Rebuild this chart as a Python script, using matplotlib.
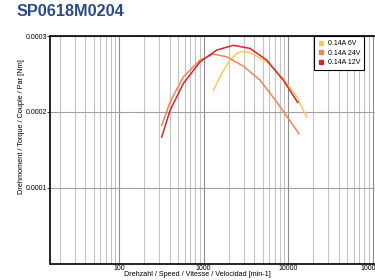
import numpy as np
import matplotlib
matplotlib.use("Agg")
import matplotlib.pyplot as plt
from matplotlib.lines import Line2D
from matplotlib.ticker import LogLocator, FixedLocator, NullFormatter, FuncFormatter

plt.rcParams['font.family'] = ['Liberation Sans', 'DejaVu Sans']

# Kennlinien (Drehzahl [min-1], Drehmoment [Nm])
speed_6v = [1306, 1641, 2061, 2473, 2832, 3548, 5594, 8790, 12680, 16630]
torque_6v = [2.286e-4, 2.507e-4, 2.683e-4, 2.771e-4, 2.793e-4, 2.779e-4,
             2.660e-4, 2.441e-4, 2.198e-4, 1.933e-4]

speed_24v = [320, 402, 577, 910, 1306, 1884, 2960, 4665, 7340, 13490]
torque_24v = [1.824e-4, 2.132e-4, 2.462e-4, 2.683e-4, 2.762e-4, 2.726e-4,
              2.604e-4, 2.419e-4, 2.132e-4, 1.714e-4]

speed_12v = [320, 402, 577, 910, 1432, 2255, 3548, 5594, 8790, 13030]
torque_12v = [1.669e-4, 2.022e-4, 2.375e-4, 2.660e-4, 2.815e-4, 2.877e-4,
              2.837e-4, 2.683e-4, 2.419e-4, 2.124e-4]

labels = ["0.14A 6V", "0.14A 24V", "0.14A 12V"]
farben = ["#fbc75c", "#ee8557", "#d5262c"]

y_ticks = [0.0001, 0.0002, 0.0003]
y_ticklabels = ["0.0001", "0.0002", "0.0003"]

fig = plt.figure(figsize=(3.75, 2.8), dpi=100)
ax = fig.add_axes([50.5 / 375, 16 / 280, 1 - 50.5 / 375, 228 / 280])

ax.set_xscale("log")
ax.set_xlim(15.46, 1.07e5)
ax.set_ylim(0, 0.0003)

# Gitter
ax.xaxis.set_major_locator(LogLocator(base=10))
ax.xaxis.set_major_formatter(FuncFormatter(lambda v, p: f"{v:.0f}"))
ax.xaxis.set_minor_locator(LogLocator(base=10, subs=np.arange(2, 10)))
ax.xaxis.set_minor_formatter(NullFormatter())
ax.grid(True, which="minor", axis="x", color="#c4c4c4", linewidth=0.8)
ax.grid(True, which="major", axis="x", color="#8e8e8e", linewidth=0.8)
ax.yaxis.set_major_locator(FixedLocator(y_ticks))
ax.set_yticklabels(y_ticklabels)
ax.grid(True, which="major", axis="y", color="#a0a0a0", linewidth=0.8)
ax.set_axisbelow(True)

ax.plot(speed_6v, torque_6v, color=farben[0], linewidth=1.1)
ax.plot(speed_24v, torque_24v, color=farben[1], linewidth=1.1)
ax.plot(speed_12v, torque_12v, color=farben[2], linewidth=1.1)

# Achsen
for s in ["left", "bottom", "top"]:
    ax.spines[s].set_color("black")
    ax.spines[s].set_linewidth(1.2)
ax.spines["right"].set_visible(False)
ax.tick_params(axis="y", which="major", length=2, width=0.6, labelsize=5, pad=0.5)
ax.tick_params(axis="x", which="both", length=0, labelsize=5, pad=0.5)

# Legende
handles = [Line2D([], [], marker="s", linestyle="", markersize=3.5,
                  markerfacecolor=c, markeredgecolor=c) for c in farben]
leg = ax.legend(handles, labels, loc="upper left", bbox_to_anchor=(0.812, 1.0),
                fontsize=5, frameon=True, fancybox=False, handlelength=0.8,
                handletextpad=0.6, borderpad=0.6, labelspacing=0.35,
                borderaxespad=0)
leg.get_frame().set_edgecolor("black")
leg.get_frame().set_linewidth(0.8)
leg.get_frame().set_alpha(1)

fig.text(17 / 375, 1 - 11.5 / 280, "SP0618M0204", fontsize=11.7,
         fontweight="bold", color="#2c4a89", va="center", ha="left")
fig.text(197 / 375, 1 - 275 / 280, "Drehzahl / Speed / Vitesse / Velocidad [min-1]",
         fontsize=5.2, ha="center", va="center")
fig.text(21.5 / 375, 1 - 127 / 280, "Drehmoment / Torque / Couple / Par [Nm]",
         fontsize=5.3, ha="center", va="center", rotation=90)

fig.savefig("out.png", dpi=100)
